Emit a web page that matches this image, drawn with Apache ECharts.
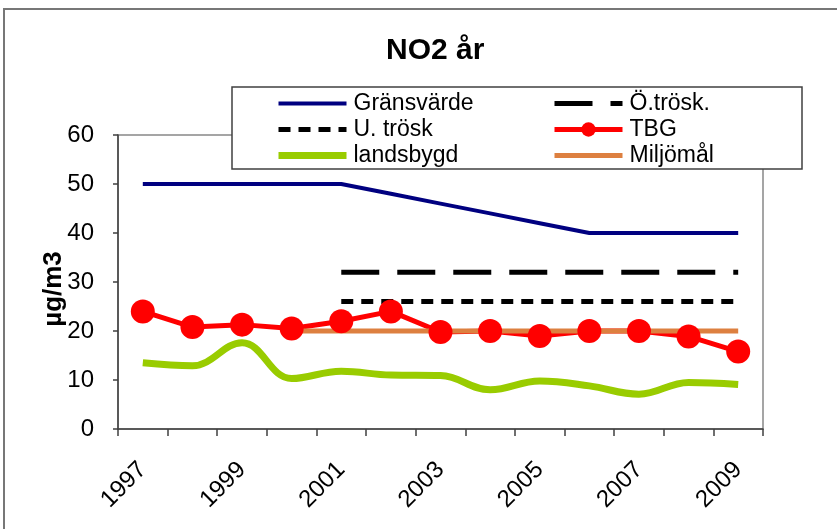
<!DOCTYPE html>
<html>
<head>
<meta charset="utf-8">
<script src="https://cdn.jsdelivr.net/npm/echarts@6/dist/echarts.min.js"></script>
<style>
  html, body { margin: 0; padding: 0; background: #fff; }
  #chart { width: 837px; height: 529px; }
</style>
</head>
<body>
<div id="chart"></div>
<script>
var years = ['1997', '1998', '1999', '2000', '2001', '2002', '2003', '2004', '2005', '2006', '2007', '2008', '2009'];
var gransvarde = [50, 50, 50, 50, 50, 48, 46, 44, 42, 40, 40, 40, 40];
var oTrosk = [null, null, null, null, 32, 32, 32, 32, 32, 32, 32, 32, 32];
var uTrosk = [null, null, null, null, 26, 26, 26, 26, 26, 26, 26, 26, 26];
var tbg = [24, 20.8, 21.3, 20.5, 22, 24, 19.8, 20, 19, 20, 20, 18.9, 15.8];
var landsbygd = [13.5, 12.9, 17.6, 10.3, 11.8, 11, 10.9, 8, 9.8, 8.8, 7.1, 9.5, 9.1];
var miljomal = [null, null, null, 20, 20, 20, 20, 20, 20, 20, 20, 20, 20];

var font = '"Liberation Sans", Arial, sans-serif';

var chart = echarts.init(document.getElementById('chart'));

// legend entries without marker (only the line)
function plain(name, width, type) {
  return { name: name, itemStyle: { opacity: 0 }, lineStyle: { width: width, type: type || 'solid' } };
}

var legendCommon = {
  orient: 'vertical',
  top: 92,
  padding: 0,
  itemGap: 3,
  itemWidth: 68,
  itemHeight: 14,
  z: 10,
  textStyle: { fontFamily: font, fontSize: 23, color: '#000', padding: [0, 0, 0, 2] }
};

var option = {
  animation: false,
  backgroundColor: '#fff',
  title: {
    text: 'NO2 år',
    left: 386,
    top: 36,
    padding: 0,
    textStyle: { fontFamily: font, fontSize: 30, fontWeight: 'bold', color: '#000' }
  },
  graphic: [
    {
      type: 'rect',
      shape: { x: 4, y: 9, width: 850, height: 540 },
      style: { fill: 'none', stroke: '#777', lineWidth: 2 },
      z: 0, silent: true
    },
    {
      type: 'rect',
      shape: { x: 232, y: 87, width: 570, height: 82 },
      style: { fill: '#fff', stroke: '#404040', lineWidth: 1.5 },
      z: 8, silent: true
    }
  ],
  legend: [
    Object.assign({}, legendCommon, {
      left: 275,
      data: [plain('Gränsvärde', 4), plain('U. trösk', 5, [12, 8]), plain('landsbygd', 7)]
    }),
    Object.assign({}, legendCommon, {
      left: 552,
      itemHeight: 18,
      data: [plain('Ö.trösk.', 5, [38, 18]), { name: 'TBG', lineStyle: { width: 5 } }, plain('Miljömål', 5)]
    })
  ],
  grid: {
    left: 118, right: 74, top: 135, bottom: 100,
    show: true, borderColor: '#888', borderWidth: 1.5, backgroundColor: '#fff'
  },
  xAxis: {
    type: 'category',
    data: years,
    boundaryGap: true,
    axisLine: { lineStyle: { color: '#404040', width: 1.5 } },
    axisTick: { show: true, interval: 0, length: 7, lineStyle: { color: '#404040', width: 1.5 } },
    axisLabel: {
      interval: 1, rotate: 45, margin: 37,
      fontFamily: font, fontSize: 24, color: '#000'
    }
  },
  yAxis: {
    type: 'value',
    min: 0, max: 60, interval: 10,
    name: 'µg/m3',
    nameLocation: 'middle',
    nameRotate: 90,
    nameGap: 51,
    nameMoveOverlap: false,
    nameTextStyle: { fontFamily: font, fontSize: 26, fontWeight: 'bold', color: '#000', padding: [0, 14, 0, 0] },
    axisLine: { show: true, lineStyle: { color: '#404040', width: 1.5 } },
    axisTick: { show: true, length: 5, lineStyle: { color: '#404040', width: 1.5 } },
    splitLine: { show: false },
    axisLabel: { margin: 24, fontFamily: font, fontSize: 24, color: '#000' }
  },
  series: [
    {
      name: 'Gränsvärde', type: 'line', data: gransvarde,
      symbol: 'none',
      lineStyle: { color: '#000080', width: 4 },
      itemStyle: { color: '#000080' }
    },
    {
      name: 'Ö.trösk.', type: 'line', data: oTrosk,
      symbol: 'none',
      lineStyle: { color: '#000', width: 5, type: [38, 18] },
      itemStyle: { color: '#000' }
    },
    {
      name: 'U. trösk', type: 'line', data: uTrosk,
      symbol: 'none',
      lineStyle: { color: '#000', width: 5, type: [12, 8] },
      itemStyle: { color: '#000' }
    },
    {
      name: 'TBG', type: 'line', data: tbg,
      symbol: 'circle', symbolSize: 24,
      lineStyle: { color: '#ff0000', width: 5 },
      itemStyle: { color: '#ff0000' }
    },
    {
      name: 'landsbygd', type: 'line', data: landsbygd,
      symbol: 'none', smooth: 0.4,
      lineStyle: { color: '#99cc00', width: 7 },
      itemStyle: { color: '#99cc00' }
    },
    {
      name: 'Miljömål', type: 'line', data: miljomal,
      symbol: 'none',
      lineStyle: { color: '#dd8040', width: 5 },
      itemStyle: { color: '#dd8040' }
    }
  ]
};

chart.setOption(option);
</script>
</body>
</html>
